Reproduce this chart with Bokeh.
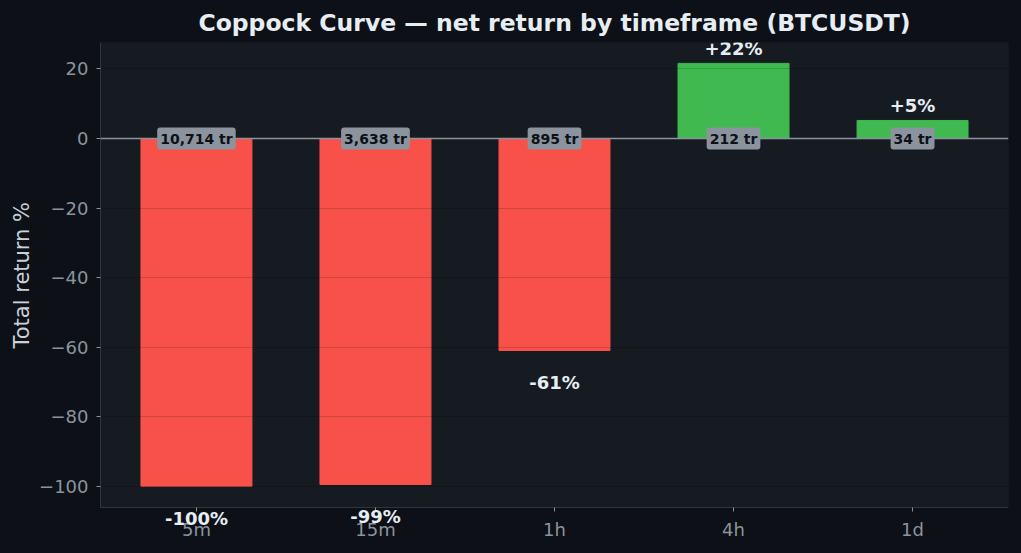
from bokeh.plotting import figure
from bokeh.models import (ColumnDataSource, Label, Span, FixedTicker, Range1d,
                          BoxAnnotation, Title, GlobalInlineStyleSheet)
from bokeh.embed import file_html
from bokeh.resources import INLINE

# Datos
timeframes = ["5m", "15m", "1h", "4h", "1d"]
returns = [-99.9, -99.4, -60.9, 21.6, 5.2]
trades = [10714, 3638, 895, 212, 34]
y_ticks = [-100, -80, -60, -40, -20, 0, 20]

Y_TOP, Y_BOTTOM = 27.6, -106   # límites del panel visible

BG = "#0d1117"
PANEL = "#161b22"
RED = "#f85149"
GREEN = "#3fb950"
GREY = "#8b949e"
SPINE = "#30363d"
FONT = "DejaVu Sans"

idx = list(range(len(timeframes)))
colors = [GREEN if r >= 0 else RED for r in returns]
pct_text = [("+" if r >= 0 else "-") + "%d%%" % round(abs(r)) for r in returns]
tr_text = ["{:,} tr".format(n) for n in trades]

src = ColumnDataSource(dict(x=idx, top=returns, color=colors))

# el marco se alarga por debajo para que las etiquetas -100% / -99% no se recorten
p = figure(width=1021, height=553, output_backend="svg", toolbar_location=None,
           x_range=Range1d(-0.536, 4.536), y_range=Range1d(-117.8, Y_TOP),
           title="Coppock Curve — net return by timeframe (BTCUSDT)",
           min_border_left=100, min_border_right=13, min_border_top=42, min_border_bottom=5)

p.stylesheets = [GlobalInlineStyleSheet(css="body{background:%s;}" % BG)]
p.background_fill_color = BG
p.border_fill_color = BG
p.outline_line_color = None

# panel del gráfico
p.add_layout(BoxAnnotation(bottom=Y_BOTTOM, fill_color=PANEL, fill_alpha=1.0,
                           line_color=SPINE, line_width=1, level="underlay"))

p.title.align = "center"
p.title.text_color = "#e6edf3"
p.title.text_font = FONT
p.title.text_font_size = "23.5px"
p.title.text_font_style = "bold"
p.title.offset = 0
p.title.standoff = 11

p.vbar(x="x", top="top", bottom=0, width=0.62, color="color", source=src)

# línea del cero
p.add_layout(Span(location=0, dimension="width", line_color=GREY, line_width=1.5))

# etiquetas de porcentaje (debajo de las barras negativas, encima de las positivas)
for i, r, t in zip(idx, returns, pct_text):
    p.add_layout(Label(x=i, y=r, y_offset=15 if r >= 0 else -32, text=t,
                       text_align="center", text_baseline="middle",
                       text_color="#e6edf3", text_font=FONT, text_font_size="18px",
                       text_font_style="bold"))

# etiquetas de número de trades
for i, t in zip(idx, tr_text):
    p.add_layout(Label(x=i, y=0, text=t, text_align="center", text_baseline="middle",
                       text_color="#0d1117", text_font=FONT, text_font_size="14px",
                       text_font_style="bold", background_fill_color=GREY,
                       background_fill_alpha=1.0, padding=3, border_radius=3))

# ejes
p.xaxis.ticker = FixedTicker(ticks=idx)
p.xaxis.major_label_overrides = {i: t for i, t in zip(idx, timeframes)}
p.xaxis.fixed_location = Y_BOTTOM
p.yaxis.ticker = FixedTicker(ticks=y_ticks)
p.yaxis.bounds = (Y_BOTTOM, Y_TOP)
p.yaxis.major_label_overrides = {t: str(t).replace("-", "\u2212") for t in y_ticks}

for ax in (p.xaxis, p.yaxis):
    ax.axis_line_color = SPINE
    ax.major_tick_line_color = GREY
    ax.major_tick_out = 4
    ax.major_tick_in = 0
    ax.minor_tick_line_color = None
    ax.major_label_text_color = GREY
    ax.major_label_text_font = FONT
    ax.major_label_text_font_size = "18px"
    ax.major_label_standoff = 8

# título del eje y, centrado sobre el panel visible y no sobre el marco alargado
p.add_layout(Title(text="Total return %", align="left", offset=200, standoff=5,
                   text_color="#c9d1d9", text_font=FONT, text_font_size="21px",
                   text_font_style="normal"), "left")

p.xgrid.grid_line_color = None
p.ygrid.grid_line_color = "#000000"
p.ygrid.grid_line_alpha = 0.15
p.ygrid.level = "guide"

open("out.html", "w").write(file_html(p, INLINE))
